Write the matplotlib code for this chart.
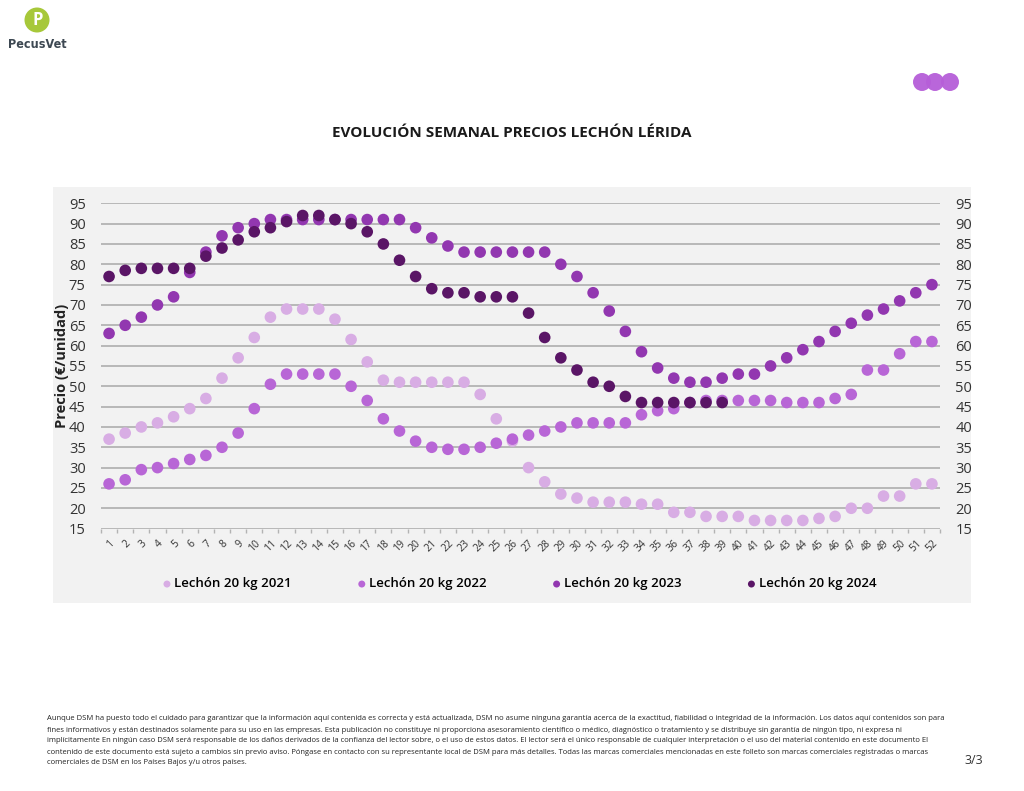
import matplotlib
matplotlib.use("Agg")
import matplotlib.pyplot as plt
from matplotlib.patches import Rectangle, Ellipse

# Datos semanales (€/unidad)
weeks = list(range(1, 53))
p2021 = [37, 38.5, 40, 41, 42.5, 44.5, 47, 52, 57, 62, 67, 69, 69, 69, 66.5, 61.5,
         56, 51.5, 51, 51, 51, 51, 51, 48, 42, 36.5, 30, 26.5, 23.5, 22.5, 21.5, 21.5,
         21.5, 21, 21, 19, 19, 18, 18, 18, 17, 17, 17, 17, 17.5, 18, 20, 20, 23, 23, 26, 26]
p2022 = [26, 27, 29.5, 30, 31, 32, 33, 35, 38.5, 44.5, 50.5, 53, 53, 53, 53, 50,
         46.5, 42, 39, 36.5, 35, 34.5, 34.5, 35, 36, 37, 38, 39, 40, 41, 41, 41,
         41, 43, 44, 44.5, 46, 46.5, 46.5, 46.5, 46.5, 46.5, 46, 46, 46, 47, 48, 54, 54, 58, 61, 61]
p2023 = [63, 65, 67, 70, 72, 78, 83, 87, 89, 90, 91, 91, 91, 91, 91, 91,
         91, 91, 91, 89, 86.5, 84.5, 83, 83, 83, 83, 83, 83, 80, 77, 73, 68.5,
         63.5, 58.5, 54.5, 52, 51, 51, 52, 53, 53, 55, 57, 59, 61, 63.5, 65.5, 67.5, 69, 71, 73, 75]
p2024 = [77, 78.5, 79, 79, 79, 79, 82, 84, 86, 88, 89, 90.5, 92, 92, 91, 90,
         88, 85, 81, 77, 74, 73, 73, 72, 72, 72, 68, 62, 57, 54, 51, 50,
         47.5, 46, 46, 46, 46, 46, 46]

series = [
    ("Lechón 20 kg 2021", p2021, "#d8ade4"),
    ("Lechón 20 kg 2022", p2022, "#b866d6"),
    ("Lechón 20 kg 2023", p2023, "#9237b0"),
    ("Lechón 20 kg 2024", p2024, "#5a1566"),
]

plt.rcParams['font.family'] = ['Open Sans', 'DejaVu Sans']

fig = plt.figure(figsize=(10.24, 7.91), dpi=100)
W, H = 1024, 791

def fx(px):
    return px / W

def fy(py):
    return 1 - py / H

def dot(cx, cy, d, color, **kw):
    # círculo real (no elipse) en coordenadas de figura
    fig.add_artist(Ellipse((fx(cx), fy(cy)), d / W, d / H, transform=fig.transFigure,
                           facecolor=color, edgecolor="none", **kw))

# fondo gris del gráfico
fig.add_artist(Rectangle((fx(53), fy(603)), fx(971) - fx(53), fy(187) - fy(603),
                         transform=fig.transFigure, facecolor="#f2f2f2",
                         edgecolor="none", zorder=-5))

ax = fig.add_axes([fx(101), fy(528.6), fx(940) - fx(101), fy(203.3) - fy(528.6)])
ax.set_facecolor("none")
ax.set_zorder(2)

for label, vals, color in series:
    ax.scatter(weeks[:len(vals)], vals, s=70, color=color, label=label,
               edgecolors="none", zorder=3)

ax.set_xlim(0.5, 52.5)
ax.set_ylim(15, 95)
ax.set_yticks(range(15, 100, 5))
ax.yaxis.grid(True, color="#b3b3b3", linewidth=1.3)
ax.set_axisbelow(True)
for s in ax.spines.values():
    s.set_visible(False)

ax.set_xticks(weeks)
ax.set_xticklabels([str(w) for w in weeks], rotation=45, ha="right",
                   rotation_mode="anchor", fontsize=7.5, color="#333333")
ax.set_xticks([w + 0.5 for w in range(0, 53)], minor=True)
ax.tick_params(axis="x", which="major", length=0, pad=7)
ax.tick_params(axis="x", which="minor", length=3, color="#b3b3b3", width=1)
ax.tick_params(axis="y", length=0, labelsize=10.5, colors="#333333", pad=11,
               labelright=True)

ax.set_ylabel("Precio (€/unidad)", fontsize=10.5, fontweight="bold", color="#222222",
              labelpad=0)

ax.legend(loc="center", bbox_to_anchor=(fx(519), fy(584)), bbox_transform=fig.transFigure,
          ncol=4, frameon=False, handletextpad=0.15, handlelength=0.8,
          columnspacing=4.9, markerscale=0.6,
          prop={"weight": "semibold", "size": 9.5})

fig.text(0.5, fy(133), "EVOLUCIÓN SEMANAL PRECIOS LECHÓN LÉRIDA", ha="center",
         va="center", fontsize=11, fontweight="bold", color="#1a1a1a")

# logo
dot(37, 20, 25, "#a7c83a")
fig.text(fx(38), fy(20), "P", ha="center", va="center", fontsize=12,
         fontweight="bold", color="white")
fig.text(fx(8), fy(45), "PecusVet", ha="left", va="center", fontsize=9,
         fontweight="bold", color="#3d4852", family="DejaVu Sans",
         fontstretch="condensed")

# círculos decorativos
for cx in [922, 935, 950]:
    dot(cx, 82, 18, "#b65ed8", alpha=0.95)

footer = [
    "Aunque DSM ha puesto todo el cuidado para garantizar que la información aquí contenida es correcta y está actualizada, DSM no asume ninguna garantía acerca de la exactitud, fiabilidad o integridad de la información. Los datos aquí contenidos son para",
    "fines informativos y están destinados solamente para su uso en las empresas. Esta publicación no constituye ni proporciona asesoramiento científico o médico, diagnóstico o tratamiento y se distribuye sin garantía de ningún tipo, ni expresa ni",
    "implícitamente En ningún caso DSM será responsable de los daños derivados de la confianza del lector sobre, o el uso de estos datos. El lector será el único responsable de cualquier interpretación o el uso del material contenido en este documento El",
    "contenido de este documento está sujeto a cambios sin previo aviso. Póngase en contacto con su representante local de DSM para más detalles. Todas las marcas comerciales mencionadas en este folleto son marcas comerciales registradas o marcas",
    "comerciales de DSM en los Países Bajos y/u otros países.",
]
for i, line in enumerate(footer):
    fig.text(fx(47), fy(719 + i * 11), line, ha="left", va="center", fontsize=5.5,
             color="#222222")

fig.text(fx(983), fy(760), "3/3", ha="right", va="center", fontsize=9, color="#333333")

fig.savefig("out.png", dpi=100)
